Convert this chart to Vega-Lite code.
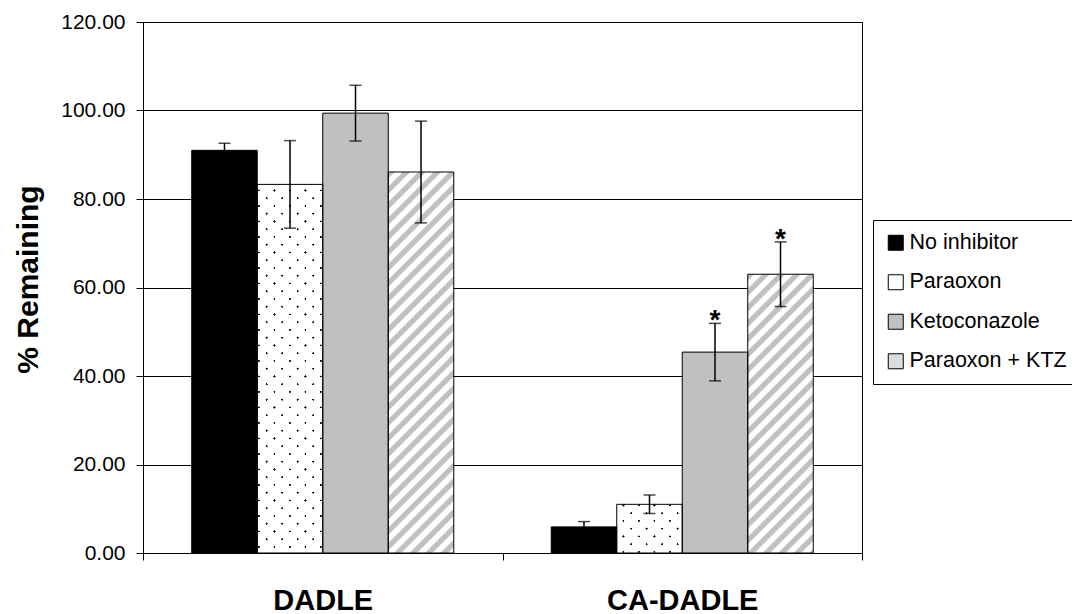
{
  "$schema": "https://vega.github.io/schema/vega-lite/v6.json",
  "autosize": {"type": "none"},
  "width": 719,
  "height": 531,
  "padding": {"left": 143, "top": 22, "right": 210, "bottom": 61},
  "background": "#ffffff",
  "data": {
    "values": [
      {"compound": "DADLE", "treatment": "No inhibitor", "mean": 91.0, "lo": 89.4, "hi": 92.6, "sig": ""},
      {"compound": "DADLE", "treatment": "Paraoxon", "mean": 83.3, "lo": 73.4, "hi": 93.2, "sig": ""},
      {"compound": "DADLE", "treatment": "Ketoconazole", "mean": 99.4, "lo": 93.1, "hi": 105.7, "sig": ""},
      {"compound": "DADLE", "treatment": "Paraoxon + KTZ", "mean": 86.1, "lo": 74.6, "hi": 97.6, "sig": ""},
      {"compound": "CA-DADLE", "treatment": "No inhibitor", "mean": 5.9, "lo": 4.7, "hi": 7.1, "sig": ""},
      {"compound": "CA-DADLE", "treatment": "Paraoxon", "mean": 11.0, "lo": 8.9, "hi": 13.1, "sig": ""},
      {"compound": "CA-DADLE", "treatment": "Ketoconazole", "mean": 45.4, "lo": 38.9, "hi": 51.9, "sig": "*"},
      {"compound": "CA-DADLE", "treatment": "Paraoxon + KTZ", "mean": 63.0, "lo": 55.7, "hi": 70.3, "sig": "*"}
    ]
  },
  "encoding": {
    "x": {
      "field": "compound", "type": "nominal", "title": null,
      "scale": {"domain": ["DADLE", "CA-DADLE"], "paddingInner": 0, "paddingOuter": 0}
    },
    "xOffset": {
      "field": "treatment", "type": "nominal",
      "scale": {"domain": ["No inhibitor", "Paraoxon", "Ketoconazole", "Paraoxon + KTZ"], "paddingInner": 0, "paddingOuter": 0.744}
    },
    "y": {
      "field": "mean", "type": "quantitative", "title": "% Remaining",
      "scale": {"domain": [0, 120], "nice": false},
      "axis": {"format": ".2f", "tickCount": 6}
    }
  },
  "layer": [
    {
      "mark": {"type": "bar", "strokeWidth": 0},
      "encoding": {
        "color": {
          "field": "treatment", "type": "nominal",
          "scale": {"domain": ["No inhibitor", "Paraoxon", "Ketoconazole", "Paraoxon + KTZ"], "range": ["#000000", "#ffffff", "#c0c0c0", "#dcdcdc"]},
          "legend": {
            "title": null, "orient": "none", "legendX": 730, "legendY": 198,
            "encode": {
              "symbols": {
                "update": {
                  "stroke": {"value": "#000000"},
                  "strokeWidth": {"value": 1}
                }
              }
            }
          }
        }
      }
    },
    {
      "transform": [{"filter": "datum.compound === 'DADLE' && datum.treatment === 'Paraoxon + KTZ'"}],
      "mark": {
        "type": "bar", "strokeWidth": 0,
        "fill": {"gradient": "linear", "x1": 0, "y1": 0, "x2": 0.27176, "y2": 1.58062, "stops": [
          {"offset": 0, "color": "#c0c0c0"}, {"offset": 0.009, "color": "#c0c0c0"}, {"offset": 0.012, "color": "#fff"}, {"offset": 0.022, "color": "#fff"},
          {"offset": 0.025, "color": "#c0c0c0"}, {"offset": 0.034, "color": "#c0c0c0"}, {"offset": 0.037, "color": "#fff"}, {"offset": 0.047, "color": "#fff"},
          {"offset": 0.05, "color": "#c0c0c0"}, {"offset": 0.059, "color": "#c0c0c0"}, {"offset": 0.062, "color": "#fff"}, {"offset": 0.072, "color": "#fff"},
          {"offset": 0.075, "color": "#c0c0c0"}, {"offset": 0.084, "color": "#c0c0c0"}, {"offset": 0.087, "color": "#fff"}, {"offset": 0.097, "color": "#fff"},
          {"offset": 0.1, "color": "#c0c0c0"}, {"offset": 0.109, "color": "#c0c0c0"}, {"offset": 0.112, "color": "#fff"}, {"offset": 0.122, "color": "#fff"},
          {"offset": 0.125, "color": "#c0c0c0"}, {"offset": 0.134, "color": "#c0c0c0"}, {"offset": 0.137, "color": "#fff"}, {"offset": 0.147, "color": "#fff"},
          {"offset": 0.15, "color": "#c0c0c0"}, {"offset": 0.159, "color": "#c0c0c0"}, {"offset": 0.162, "color": "#fff"}, {"offset": 0.172, "color": "#fff"},
          {"offset": 0.175, "color": "#c0c0c0"}, {"offset": 0.184, "color": "#c0c0c0"}, {"offset": 0.187, "color": "#fff"}, {"offset": 0.197, "color": "#fff"},
          {"offset": 0.2, "color": "#c0c0c0"}, {"offset": 0.209, "color": "#c0c0c0"}, {"offset": 0.212, "color": "#fff"}, {"offset": 0.222, "color": "#fff"},
          {"offset": 0.225, "color": "#c0c0c0"}, {"offset": 0.234, "color": "#c0c0c0"}, {"offset": 0.237, "color": "#fff"}, {"offset": 0.247, "color": "#fff"},
          {"offset": 0.25, "color": "#c0c0c0"}, {"offset": 0.259, "color": "#c0c0c0"}, {"offset": 0.262, "color": "#fff"}, {"offset": 0.272, "color": "#fff"},
          {"offset": 0.275, "color": "#c0c0c0"}, {"offset": 0.284, "color": "#c0c0c0"}, {"offset": 0.287, "color": "#fff"}, {"offset": 0.297, "color": "#fff"},
          {"offset": 0.3, "color": "#c0c0c0"}, {"offset": 0.309, "color": "#c0c0c0"}, {"offset": 0.312, "color": "#fff"}, {"offset": 0.322, "color": "#fff"},
          {"offset": 0.325, "color": "#c0c0c0"}, {"offset": 0.334, "color": "#c0c0c0"}, {"offset": 0.337, "color": "#fff"}, {"offset": 0.347, "color": "#fff"},
          {"offset": 0.35, "color": "#c0c0c0"}, {"offset": 0.359, "color": "#c0c0c0"}, {"offset": 0.362, "color": "#fff"}, {"offset": 0.372, "color": "#fff"},
          {"offset": 0.375, "color": "#c0c0c0"}, {"offset": 0.384, "color": "#c0c0c0"}, {"offset": 0.387, "color": "#fff"}, {"offset": 0.397, "color": "#fff"},
          {"offset": 0.4, "color": "#c0c0c0"}, {"offset": 0.409, "color": "#c0c0c0"}, {"offset": 0.412, "color": "#fff"}, {"offset": 0.422, "color": "#fff"},
          {"offset": 0.425, "color": "#c0c0c0"}, {"offset": 0.434, "color": "#c0c0c0"}, {"offset": 0.437, "color": "#fff"}, {"offset": 0.447, "color": "#fff"},
          {"offset": 0.45, "color": "#c0c0c0"}, {"offset": 0.459, "color": "#c0c0c0"}, {"offset": 0.462, "color": "#fff"}, {"offset": 0.472, "color": "#fff"},
          {"offset": 0.475, "color": "#c0c0c0"}, {"offset": 0.484, "color": "#c0c0c0"}, {"offset": 0.487, "color": "#fff"}, {"offset": 0.497, "color": "#fff"},
          {"offset": 0.5, "color": "#c0c0c0"}, {"offset": 0.509, "color": "#c0c0c0"}, {"offset": 0.512, "color": "#fff"}, {"offset": 0.522, "color": "#fff"},
          {"offset": 0.525, "color": "#c0c0c0"}, {"offset": 0.534, "color": "#c0c0c0"}, {"offset": 0.537, "color": "#fff"}, {"offset": 0.547, "color": "#fff"},
          {"offset": 0.55, "color": "#c0c0c0"}, {"offset": 0.559, "color": "#c0c0c0"}, {"offset": 0.562, "color": "#fff"}, {"offset": 0.572, "color": "#fff"},
          {"offset": 0.575, "color": "#c0c0c0"}, {"offset": 0.584, "color": "#c0c0c0"}, {"offset": 0.587, "color": "#fff"}, {"offset": 0.597, "color": "#fff"},
          {"offset": 0.6, "color": "#c0c0c0"}, {"offset": 0.609, "color": "#c0c0c0"}, {"offset": 0.612, "color": "#fff"}, {"offset": 0.622, "color": "#fff"},
          {"offset": 0.625, "color": "#c0c0c0"}, {"offset": 0.634, "color": "#c0c0c0"}, {"offset": 0.637, "color": "#fff"}, {"offset": 0.647, "color": "#fff"},
          {"offset": 0.65, "color": "#c0c0c0"}, {"offset": 0.659, "color": "#c0c0c0"}, {"offset": 0.662, "color": "#fff"}, {"offset": 0.672, "color": "#fff"},
          {"offset": 0.675, "color": "#c0c0c0"}, {"offset": 0.684, "color": "#c0c0c0"}, {"offset": 0.687, "color": "#fff"}, {"offset": 0.697, "color": "#fff"},
          {"offset": 0.7, "color": "#c0c0c0"}, {"offset": 0.709, "color": "#c0c0c0"}, {"offset": 0.712, "color": "#fff"}, {"offset": 0.722, "color": "#fff"},
          {"offset": 0.725, "color": "#c0c0c0"}
        ]}
      }
    },
    {
      "transform": [{"filter": "datum.compound === 'CA-DADLE' && datum.treatment === 'Paraoxon + KTZ'"}],
      "mark": {
        "type": "bar", "strokeWidth": 0,
        "fill": {"gradient": "linear", "x1": 0, "y1": 0, "x2": 0.49524, "y2": 2.10763, "stops": [
          {"offset": 0, "color": "#c0c0c0"}, {"offset": 0.009, "color": "#c0c0c0"}, {"offset": 0.012, "color": "#fff"}, {"offset": 0.022, "color": "#fff"},
          {"offset": 0.025, "color": "#c0c0c0"}, {"offset": 0.034, "color": "#c0c0c0"}, {"offset": 0.037, "color": "#fff"}, {"offset": 0.047, "color": "#fff"},
          {"offset": 0.05, "color": "#c0c0c0"}, {"offset": 0.059, "color": "#c0c0c0"}, {"offset": 0.062, "color": "#fff"}, {"offset": 0.072, "color": "#fff"},
          {"offset": 0.075, "color": "#c0c0c0"}, {"offset": 0.084, "color": "#c0c0c0"}, {"offset": 0.087, "color": "#fff"}, {"offset": 0.097, "color": "#fff"},
          {"offset": 0.1, "color": "#c0c0c0"}, {"offset": 0.109, "color": "#c0c0c0"}, {"offset": 0.112, "color": "#fff"}, {"offset": 0.122, "color": "#fff"},
          {"offset": 0.125, "color": "#c0c0c0"}, {"offset": 0.134, "color": "#c0c0c0"}, {"offset": 0.137, "color": "#fff"}, {"offset": 0.147, "color": "#fff"},
          {"offset": 0.15, "color": "#c0c0c0"}, {"offset": 0.159, "color": "#c0c0c0"}, {"offset": 0.162, "color": "#fff"}, {"offset": 0.172, "color": "#fff"},
          {"offset": 0.175, "color": "#c0c0c0"}, {"offset": 0.184, "color": "#c0c0c0"}, {"offset": 0.187, "color": "#fff"}, {"offset": 0.197, "color": "#fff"},
          {"offset": 0.2, "color": "#c0c0c0"}, {"offset": 0.209, "color": "#c0c0c0"}, {"offset": 0.212, "color": "#fff"}, {"offset": 0.222, "color": "#fff"},
          {"offset": 0.225, "color": "#c0c0c0"}, {"offset": 0.234, "color": "#c0c0c0"}, {"offset": 0.237, "color": "#fff"}, {"offset": 0.247, "color": "#fff"},
          {"offset": 0.25, "color": "#c0c0c0"}, {"offset": 0.259, "color": "#c0c0c0"}, {"offset": 0.262, "color": "#fff"}, {"offset": 0.272, "color": "#fff"},
          {"offset": 0.275, "color": "#c0c0c0"}, {"offset": 0.284, "color": "#c0c0c0"}, {"offset": 0.287, "color": "#fff"}, {"offset": 0.297, "color": "#fff"},
          {"offset": 0.3, "color": "#c0c0c0"}, {"offset": 0.309, "color": "#c0c0c0"}, {"offset": 0.312, "color": "#fff"}, {"offset": 0.322, "color": "#fff"},
          {"offset": 0.325, "color": "#c0c0c0"}, {"offset": 0.334, "color": "#c0c0c0"}, {"offset": 0.337, "color": "#fff"}, {"offset": 0.347, "color": "#fff"},
          {"offset": 0.35, "color": "#c0c0c0"}, {"offset": 0.359, "color": "#c0c0c0"}, {"offset": 0.362, "color": "#fff"}, {"offset": 0.372, "color": "#fff"},
          {"offset": 0.375, "color": "#c0c0c0"}, {"offset": 0.384, "color": "#c0c0c0"}, {"offset": 0.387, "color": "#fff"}, {"offset": 0.397, "color": "#fff"},
          {"offset": 0.4, "color": "#c0c0c0"}, {"offset": 0.409, "color": "#c0c0c0"}, {"offset": 0.412, "color": "#fff"}, {"offset": 0.422, "color": "#fff"},
          {"offset": 0.425, "color": "#c0c0c0"}, {"offset": 0.434, "color": "#c0c0c0"}, {"offset": 0.437, "color": "#fff"}, {"offset": 0.447, "color": "#fff"},
          {"offset": 0.45, "color": "#c0c0c0"}, {"offset": 0.459, "color": "#c0c0c0"}, {"offset": 0.462, "color": "#fff"}, {"offset": 0.472, "color": "#fff"},
          {"offset": 0.475, "color": "#c0c0c0"}, {"offset": 0.484, "color": "#c0c0c0"}, {"offset": 0.487, "color": "#fff"}, {"offset": 0.497, "color": "#fff"},
          {"offset": 0.5, "color": "#c0c0c0"}, {"offset": 0.509, "color": "#c0c0c0"}, {"offset": 0.512, "color": "#fff"}, {"offset": 0.522, "color": "#fff"},
          {"offset": 0.525, "color": "#c0c0c0"}, {"offset": 0.534, "color": "#c0c0c0"}, {"offset": 0.537, "color": "#fff"}, {"offset": 0.547, "color": "#fff"},
          {"offset": 0.55, "color": "#c0c0c0"}, {"offset": 0.559, "color": "#c0c0c0"}, {"offset": 0.562, "color": "#fff"}, {"offset": 0.572, "color": "#fff"},
          {"offset": 0.575, "color": "#c0c0c0"}
        ]}
      }
    },
    {
      "transform": [{"filter": "datum.compound === 'DADLE' && datum.treatment === 'Paraoxon'"}],
      "mark": {
        "type": "bar", "strokeWidth": 0,
        "fill": {"gradient": "linear", "x1": 0, "y1": 0, "x2": 0.28977, "y2": 1.63054, "stops": [
          {"offset": 0.01, "color": "rgba(0,0,0,0)"}, {"offset": 0.011, "color": "#111"}, {"offset": 0.014, "color": "#111"}, {"offset": 0.015, "color": "rgba(0,0,0,0)"},
          {"offset": 0.035, "color": "rgba(0,0,0,0)"}, {"offset": 0.036, "color": "#111"}, {"offset": 0.039, "color": "#111"}, {"offset": 0.04, "color": "rgba(0,0,0,0)"},
          {"offset": 0.06, "color": "rgba(0,0,0,0)"}, {"offset": 0.061, "color": "#111"}, {"offset": 0.064, "color": "#111"}, {"offset": 0.065, "color": "rgba(0,0,0,0)"},
          {"offset": 0.085, "color": "rgba(0,0,0,0)"}, {"offset": 0.086, "color": "#111"}, {"offset": 0.089, "color": "#111"}, {"offset": 0.09, "color": "rgba(0,0,0,0)"},
          {"offset": 0.11, "color": "rgba(0,0,0,0)"}, {"offset": 0.111, "color": "#111"}, {"offset": 0.114, "color": "#111"}, {"offset": 0.115, "color": "rgba(0,0,0,0)"},
          {"offset": 0.135, "color": "rgba(0,0,0,0)"}, {"offset": 0.136, "color": "#111"}, {"offset": 0.139, "color": "#111"}, {"offset": 0.14, "color": "rgba(0,0,0,0)"},
          {"offset": 0.16, "color": "rgba(0,0,0,0)"}, {"offset": 0.161, "color": "#111"}, {"offset": 0.164, "color": "#111"}, {"offset": 0.165, "color": "rgba(0,0,0,0)"},
          {"offset": 0.185, "color": "rgba(0,0,0,0)"}, {"offset": 0.186, "color": "#111"}, {"offset": 0.189, "color": "#111"}, {"offset": 0.19, "color": "rgba(0,0,0,0)"},
          {"offset": 0.21, "color": "rgba(0,0,0,0)"}, {"offset": 0.211, "color": "#111"}, {"offset": 0.214, "color": "#111"}, {"offset": 0.215, "color": "rgba(0,0,0,0)"},
          {"offset": 0.235, "color": "rgba(0,0,0,0)"}, {"offset": 0.236, "color": "#111"}, {"offset": 0.239, "color": "#111"}, {"offset": 0.24, "color": "rgba(0,0,0,0)"},
          {"offset": 0.26, "color": "rgba(0,0,0,0)"}, {"offset": 0.261, "color": "#111"}, {"offset": 0.264, "color": "#111"}, {"offset": 0.265, "color": "rgba(0,0,0,0)"},
          {"offset": 0.285, "color": "rgba(0,0,0,0)"}, {"offset": 0.286, "color": "#111"}, {"offset": 0.289, "color": "#111"}, {"offset": 0.29, "color": "rgba(0,0,0,0)"},
          {"offset": 0.31, "color": "rgba(0,0,0,0)"}, {"offset": 0.311, "color": "#111"}, {"offset": 0.314, "color": "#111"}, {"offset": 0.315, "color": "rgba(0,0,0,0)"},
          {"offset": 0.335, "color": "rgba(0,0,0,0)"}, {"offset": 0.336, "color": "#111"}, {"offset": 0.339, "color": "#111"}, {"offset": 0.34, "color": "rgba(0,0,0,0)"},
          {"offset": 0.36, "color": "rgba(0,0,0,0)"}, {"offset": 0.361, "color": "#111"}, {"offset": 0.364, "color": "#111"}, {"offset": 0.365, "color": "rgba(0,0,0,0)"},
          {"offset": 0.385, "color": "rgba(0,0,0,0)"}, {"offset": 0.386, "color": "#111"}, {"offset": 0.389, "color": "#111"}, {"offset": 0.39, "color": "rgba(0,0,0,0)"},
          {"offset": 0.41, "color": "rgba(0,0,0,0)"}, {"offset": 0.411, "color": "#111"}, {"offset": 0.414, "color": "#111"}, {"offset": 0.415, "color": "rgba(0,0,0,0)"},
          {"offset": 0.435, "color": "rgba(0,0,0,0)"}, {"offset": 0.436, "color": "#111"}, {"offset": 0.439, "color": "#111"}, {"offset": 0.44, "color": "rgba(0,0,0,0)"},
          {"offset": 0.46, "color": "rgba(0,0,0,0)"}, {"offset": 0.461, "color": "#111"}, {"offset": 0.464, "color": "#111"}, {"offset": 0.465, "color": "rgba(0,0,0,0)"},
          {"offset": 0.485, "color": "rgba(0,0,0,0)"}, {"offset": 0.486, "color": "#111"}, {"offset": 0.489, "color": "#111"}, {"offset": 0.49, "color": "rgba(0,0,0,0)"},
          {"offset": 0.51, "color": "rgba(0,0,0,0)"}, {"offset": 0.511, "color": "#111"}, {"offset": 0.514, "color": "#111"}, {"offset": 0.515, "color": "rgba(0,0,0,0)"},
          {"offset": 0.535, "color": "rgba(0,0,0,0)"}, {"offset": 0.536, "color": "#111"}, {"offset": 0.539, "color": "#111"}, {"offset": 0.54, "color": "rgba(0,0,0,0)"},
          {"offset": 0.56, "color": "rgba(0,0,0,0)"}, {"offset": 0.561, "color": "#111"}, {"offset": 0.564, "color": "#111"}, {"offset": 0.565, "color": "rgba(0,0,0,0)"},
          {"offset": 0.585, "color": "rgba(0,0,0,0)"}, {"offset": 0.586, "color": "#111"}, {"offset": 0.589, "color": "#111"}, {"offset": 0.59, "color": "rgba(0,0,0,0)"},
          {"offset": 0.61, "color": "rgba(0,0,0,0)"}, {"offset": 0.611, "color": "#111"}, {"offset": 0.614, "color": "#111"}, {"offset": 0.615, "color": "rgba(0,0,0,0)"},
          {"offset": 0.635, "color": "rgba(0,0,0,0)"}, {"offset": 0.636, "color": "#111"}, {"offset": 0.639, "color": "#111"}, {"offset": 0.64, "color": "rgba(0,0,0,0)"},
          {"offset": 0.66, "color": "rgba(0,0,0,0)"}, {"offset": 0.661, "color": "#111"}, {"offset": 0.664, "color": "#111"}, {"offset": 0.665, "color": "rgba(0,0,0,0)"},
          {"offset": 0.685, "color": "rgba(0,0,0,0)"}, {"offset": 0.686, "color": "#111"}, {"offset": 0.689, "color": "#111"}, {"offset": 0.69, "color": "rgba(0,0,0,0)"},
          {"offset": 0.71, "color": "rgba(0,0,0,0)"}, {"offset": 0.711, "color": "#111"}, {"offset": 0.714, "color": "#111"}, {"offset": 0.715, "color": "rgba(0,0,0,0)"}
        ]}
      }
    },
    {
      "transform": [{"filter": "datum.compound === 'DADLE' && datum.treatment === 'Paraoxon'"}],
      "mark": {
        "type": "bar", "strokeWidth": 0,
        "fill": {"gradient": "linear", "x1": 0, "y1": 1, "x2": 0.28977, "y2": -0.63054, "stops": [
          {"offset": 0.01, "color": "#fff"}, {"offset": 0.011, "color": "rgba(255,255,255,0)"}, {"offset": 0.014, "color": "rgba(255,255,255,0)"}, {"offset": 0.015, "color": "#fff"},
          {"offset": 0.035, "color": "#fff"}, {"offset": 0.036, "color": "rgba(255,255,255,0)"}, {"offset": 0.039, "color": "rgba(255,255,255,0)"}, {"offset": 0.04, "color": "#fff"},
          {"offset": 0.06, "color": "#fff"}, {"offset": 0.061, "color": "rgba(255,255,255,0)"}, {"offset": 0.064, "color": "rgba(255,255,255,0)"}, {"offset": 0.065, "color": "#fff"},
          {"offset": 0.085, "color": "#fff"}, {"offset": 0.086, "color": "rgba(255,255,255,0)"}, {"offset": 0.089, "color": "rgba(255,255,255,0)"}, {"offset": 0.09, "color": "#fff"},
          {"offset": 0.11, "color": "#fff"}, {"offset": 0.111, "color": "rgba(255,255,255,0)"}, {"offset": 0.114, "color": "rgba(255,255,255,0)"}, {"offset": 0.115, "color": "#fff"},
          {"offset": 0.135, "color": "#fff"}, {"offset": 0.136, "color": "rgba(255,255,255,0)"}, {"offset": 0.139, "color": "rgba(255,255,255,0)"}, {"offset": 0.14, "color": "#fff"},
          {"offset": 0.16, "color": "#fff"}, {"offset": 0.161, "color": "rgba(255,255,255,0)"}, {"offset": 0.164, "color": "rgba(255,255,255,0)"}, {"offset": 0.165, "color": "#fff"},
          {"offset": 0.185, "color": "#fff"}, {"offset": 0.186, "color": "rgba(255,255,255,0)"}, {"offset": 0.189, "color": "rgba(255,255,255,0)"}, {"offset": 0.19, "color": "#fff"},
          {"offset": 0.21, "color": "#fff"}, {"offset": 0.211, "color": "rgba(255,255,255,0)"}, {"offset": 0.214, "color": "rgba(255,255,255,0)"}, {"offset": 0.215, "color": "#fff"},
          {"offset": 0.235, "color": "#fff"}, {"offset": 0.236, "color": "rgba(255,255,255,0)"}, {"offset": 0.239, "color": "rgba(255,255,255,0)"}, {"offset": 0.24, "color": "#fff"},
          {"offset": 0.26, "color": "#fff"}, {"offset": 0.261, "color": "rgba(255,255,255,0)"}, {"offset": 0.264, "color": "rgba(255,255,255,0)"}, {"offset": 0.265, "color": "#fff"},
          {"offset": 0.285, "color": "#fff"}, {"offset": 0.286, "color": "rgba(255,255,255,0)"}, {"offset": 0.289, "color": "rgba(255,255,255,0)"}, {"offset": 0.29, "color": "#fff"},
          {"offset": 0.31, "color": "#fff"}, {"offset": 0.311, "color": "rgba(255,255,255,0)"}, {"offset": 0.314, "color": "rgba(255,255,255,0)"}, {"offset": 0.315, "color": "#fff"},
          {"offset": 0.335, "color": "#fff"}, {"offset": 0.336, "color": "rgba(255,255,255,0)"}, {"offset": 0.339, "color": "rgba(255,255,255,0)"}, {"offset": 0.34, "color": "#fff"},
          {"offset": 0.36, "color": "#fff"}, {"offset": 0.361, "color": "rgba(255,255,255,0)"}, {"offset": 0.364, "color": "rgba(255,255,255,0)"}, {"offset": 0.365, "color": "#fff"},
          {"offset": 0.385, "color": "#fff"}, {"offset": 0.386, "color": "rgba(255,255,255,0)"}, {"offset": 0.389, "color": "rgba(255,255,255,0)"}, {"offset": 0.39, "color": "#fff"},
          {"offset": 0.41, "color": "#fff"}, {"offset": 0.411, "color": "rgba(255,255,255,0)"}, {"offset": 0.414, "color": "rgba(255,255,255,0)"}, {"offset": 0.415, "color": "#fff"},
          {"offset": 0.435, "color": "#fff"}, {"offset": 0.436, "color": "rgba(255,255,255,0)"}, {"offset": 0.439, "color": "rgba(255,255,255,0)"}, {"offset": 0.44, "color": "#fff"},
          {"offset": 0.46, "color": "#fff"}, {"offset": 0.461, "color": "rgba(255,255,255,0)"}, {"offset": 0.464, "color": "rgba(255,255,255,0)"}, {"offset": 0.465, "color": "#fff"},
          {"offset": 0.485, "color": "#fff"}, {"offset": 0.486, "color": "rgba(255,255,255,0)"}, {"offset": 0.489, "color": "rgba(255,255,255,0)"}, {"offset": 0.49, "color": "#fff"},
          {"offset": 0.51, "color": "#fff"}, {"offset": 0.511, "color": "rgba(255,255,255,0)"}, {"offset": 0.514, "color": "rgba(255,255,255,0)"}, {"offset": 0.515, "color": "#fff"},
          {"offset": 0.535, "color": "#fff"}, {"offset": 0.536, "color": "rgba(255,255,255,0)"}, {"offset": 0.539, "color": "rgba(255,255,255,0)"}, {"offset": 0.54, "color": "#fff"},
          {"offset": 0.56, "color": "#fff"}, {"offset": 0.561, "color": "rgba(255,255,255,0)"}, {"offset": 0.564, "color": "rgba(255,255,255,0)"}, {"offset": 0.565, "color": "#fff"},
          {"offset": 0.585, "color": "#fff"}, {"offset": 0.586, "color": "rgba(255,255,255,0)"}, {"offset": 0.589, "color": "rgba(255,255,255,0)"}, {"offset": 0.59, "color": "#fff"},
          {"offset": 0.61, "color": "#fff"}, {"offset": 0.611, "color": "rgba(255,255,255,0)"}, {"offset": 0.614, "color": "rgba(255,255,255,0)"}, {"offset": 0.615, "color": "#fff"},
          {"offset": 0.635, "color": "#fff"}, {"offset": 0.636, "color": "rgba(255,255,255,0)"}, {"offset": 0.639, "color": "rgba(255,255,255,0)"}, {"offset": 0.64, "color": "#fff"},
          {"offset": 0.66, "color": "#fff"}, {"offset": 0.661, "color": "rgba(255,255,255,0)"}, {"offset": 0.664, "color": "rgba(255,255,255,0)"}, {"offset": 0.665, "color": "#fff"},
          {"offset": 0.685, "color": "#fff"}, {"offset": 0.686, "color": "rgba(255,255,255,0)"}, {"offset": 0.689, "color": "rgba(255,255,255,0)"}, {"offset": 0.69, "color": "#fff"},
          {"offset": 0.71, "color": "#fff"}, {"offset": 0.711, "color": "rgba(255,255,255,0)"}, {"offset": 0.714, "color": "rgba(255,255,255,0)"}, {"offset": 0.715, "color": "#fff"}
        ]}
      }
    },
    {
      "transform": [{"filter": "datum.compound === 'CA-DADLE' && datum.treatment === 'Paraoxon'"}],
      "mark": {
        "type": "bar", "strokeWidth": 0,
        "fill": {"gradient": "linear", "x1": 0, "y1": 0, "x2": 6.0979, "y2": 4.5311, "stops": [
          {"offset": 0.01, "color": "rgba(0,0,0,0)"}, {"offset": 0.011, "color": "#111"}, {"offset": 0.014, "color": "#111"}, {"offset": 0.015, "color": "rgba(0,0,0,0)"},
          {"offset": 0.035, "color": "rgba(0,0,0,0)"}, {"offset": 0.036, "color": "#111"}, {"offset": 0.039, "color": "#111"}, {"offset": 0.04, "color": "rgba(0,0,0,0)"},
          {"offset": 0.06, "color": "rgba(0,0,0,0)"}, {"offset": 0.061, "color": "#111"}, {"offset": 0.064, "color": "#111"}, {"offset": 0.065, "color": "rgba(0,0,0,0)"},
          {"offset": 0.085, "color": "rgba(0,0,0,0)"}, {"offset": 0.086, "color": "#111"}, {"offset": 0.089, "color": "#111"}, {"offset": 0.09, "color": "rgba(0,0,0,0)"},
          {"offset": 0.11, "color": "rgba(0,0,0,0)"}, {"offset": 0.111, "color": "#111"}, {"offset": 0.114, "color": "#111"}, {"offset": 0.115, "color": "rgba(0,0,0,0)"},
          {"offset": 0.135, "color": "rgba(0,0,0,0)"}, {"offset": 0.136, "color": "#111"}, {"offset": 0.139, "color": "#111"}, {"offset": 0.14, "color": "rgba(0,0,0,0)"},
          {"offset": 0.16, "color": "rgba(0,0,0,0)"}, {"offset": 0.161, "color": "#111"}, {"offset": 0.164, "color": "#111"}, {"offset": 0.165, "color": "rgba(0,0,0,0)"},
          {"offset": 0.185, "color": "rgba(0,0,0,0)"}, {"offset": 0.186, "color": "#111"}, {"offset": 0.189, "color": "#111"}, {"offset": 0.19, "color": "rgba(0,0,0,0)"}
        ]}
      }
    },
    {
      "transform": [{"filter": "datum.compound === 'CA-DADLE' && datum.treatment === 'Paraoxon'"}],
      "mark": {
        "type": "bar", "strokeWidth": 0,
        "fill": {"gradient": "linear", "x1": 0, "y1": 1, "x2": 6.0979, "y2": -3.5311, "stops": [
          {"offset": 0.01, "color": "#fff"}, {"offset": 0.011, "color": "rgba(255,255,255,0)"}, {"offset": 0.014, "color": "rgba(255,255,255,0)"}, {"offset": 0.015, "color": "#fff"},
          {"offset": 0.035, "color": "#fff"}, {"offset": 0.036, "color": "rgba(255,255,255,0)"}, {"offset": 0.039, "color": "rgba(255,255,255,0)"}, {"offset": 0.04, "color": "#fff"},
          {"offset": 0.06, "color": "#fff"}, {"offset": 0.061, "color": "rgba(255,255,255,0)"}, {"offset": 0.064, "color": "rgba(255,255,255,0)"}, {"offset": 0.065, "color": "#fff"},
          {"offset": 0.085, "color": "#fff"}, {"offset": 0.086, "color": "rgba(255,255,255,0)"}, {"offset": 0.089, "color": "rgba(255,255,255,0)"}, {"offset": 0.09, "color": "#fff"},
          {"offset": 0.11, "color": "#fff"}, {"offset": 0.111, "color": "rgba(255,255,255,0)"}, {"offset": 0.114, "color": "rgba(255,255,255,0)"}, {"offset": 0.115, "color": "#fff"},
          {"offset": 0.135, "color": "#fff"}, {"offset": 0.136, "color": "rgba(255,255,255,0)"}, {"offset": 0.139, "color": "rgba(255,255,255,0)"}, {"offset": 0.14, "color": "#fff"},
          {"offset": 0.16, "color": "#fff"}, {"offset": 0.161, "color": "rgba(255,255,255,0)"}, {"offset": 0.164, "color": "rgba(255,255,255,0)"}, {"offset": 0.165, "color": "#fff"},
          {"offset": 0.185, "color": "#fff"}, {"offset": 0.186, "color": "rgba(255,255,255,0)"}, {"offset": 0.189, "color": "rgba(255,255,255,0)"}, {"offset": 0.19, "color": "#fff"}
        ]}
      }
    },
    {
      "mark": {"type": "bar", "fill": "transparent", "stroke": "#000000", "strokeWidth": 1}
    },
    {
      "mark": {"type": "rule", "color": "#000000", "strokeWidth": 1.5},
      "encoding": {
        "y": {"field": "lo", "type": "quantitative", "title": "% Remaining", "scale": {"domain": [0, 120], "nice": false}, "axis": {"format": ".2f", "tickCount": 6}},
        "y2": {"field": "hi"}
      }
    },
    {
      "mark": {"type": "tick", "color": "#000000", "size": 12, "thickness": 1.5, "orient": "horizontal"},
      "encoding": {
        "y": {"field": "lo", "type": "quantitative", "title": "% Remaining", "scale": {"domain": [0, 120], "nice": false}, "axis": {"format": ".2f", "tickCount": 6}}
      }
    },
    {
      "mark": {"type": "tick", "color": "#000000", "size": 12, "thickness": 1.5, "orient": "horizontal"},
      "encoding": {
        "y": {"field": "hi", "type": "quantitative", "title": "% Remaining", "scale": {"domain": [0, 120], "nice": false}, "axis": {"format": ".2f", "tickCount": 6}}
      }
    },
    {
      "mark": {"type": "text", "fontSize": 28, "fontWeight": "bold", "dy": 6, "baseline": "alphabetic", "align": "center", "color": "#000000"},
      "encoding": {
        "y": {"field": "hi", "type": "quantitative", "title": "% Remaining", "scale": {"domain": [0, 120], "nice": false}, "axis": {"format": ".2f", "tickCount": 6}},
        "text": {"field": "sig"}
      }
    }
  ],
  "config": {
    "font": "Liberation Sans",
    "view": {"stroke": "#000000", "strokeWidth": 1},
    "axis": {
      "domainColor": "#000000", "domainWidth": 1,
      "tickColor": "#000000", "tickWidth": 1, "tickSize": 7,
      "labelColor": "#000000", "titleColor": "#000000",
      "gridColor": "#000000", "gridWidth": 1
    },
    "axisX": {
      "grid": false, "tickBand": "extent", "labelAngle": 0,
      "labelFontSize": 29, "labelFontWeight": "bold",
      "labelBaseline": "alphabetic", "labelPadding": 49
    },
    "axisY": {
      "grid": true, "labelFontSize": 21, "labelPadding": 11,
      "titleFontSize": 30, "titleFontWeight": "bold",
      "titleX": -100, "titleY": 257, "titleAngle": -90,
      "titleBaseline": "bottom", "titleAlign": "center"
    },
    "legend": {
      "strokeColor": "#000000", "strokeWidth": 1, "fillColor": "#ffffff",
      "padding": 12, "rowPadding": 16.5,
      "symbolType": "square", "symbolSize": 225,
      "symbolStrokeColor": "#000000", "symbolStrokeWidth": 1, "symbolOpacity": 1,
      "labelFontSize": 21.5, "labelColor": "#000000", "labelOffset": 3, "labelLimit": 400
    }
  }
}
